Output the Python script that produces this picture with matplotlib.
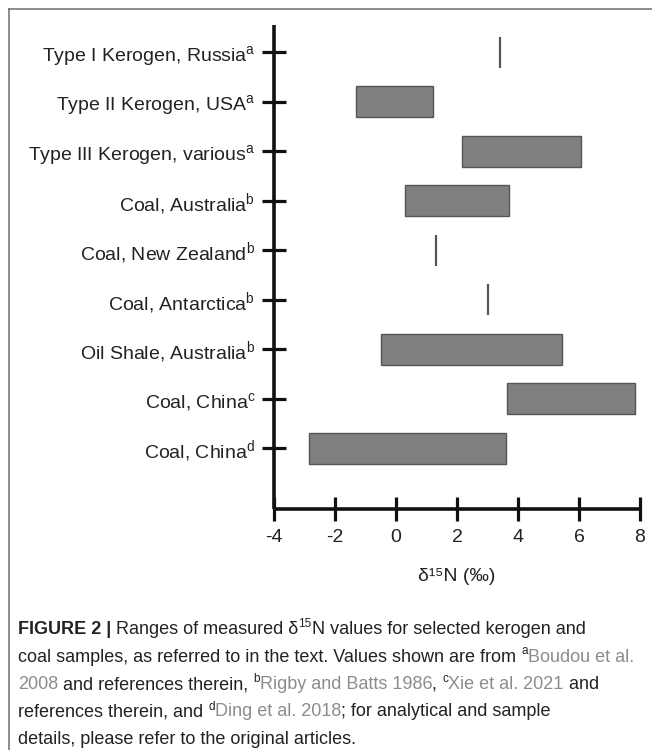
import matplotlib
matplotlib.use("Agg")
import matplotlib.pyplot as plt
from matplotlib.lines import Line2D

# ---------------- data ----------------
categories = [
    "Type I Kerogen, Russia", "Type II Kerogen, USA", "Type III Kerogen, various",
    "Coal, Australia", "Coal, New Zealand", "Coal, Antarctica",
    "Oil Shale, Australia", "Coal, China", "Coal, China",
]
refs = ["a", "a", "a", "b", "b", "b", "b", "c", "d"]
low_vals = [3.4, -1.3, 2.15, 0.3, 1.3, 3.0, -0.5, 3.65, -2.85]
high_vals = [3.4, 1.2, 6.05, 3.7, 1.3, 3.0, 5.45, 7.85, 3.6]
xticks = [-4, -2, 0, 2, 4, 6, 8]
xlabel = "δ¹⁵N (‰)"

# ---------------- fonts ----------------
FONT = "Liberation Sans"
plt.rcParams["font.family"] = [FONT, "DejaVu Sans"]
plt.rcParams["mathtext.fontset"] = "custom"
plt.rcParams["mathtext.rm"] = FONT
plt.rcParams["mathtext.default"] = "regular"

W, H = 652, 750
fig = plt.figure(figsize=(W / 100, H / 100), dpi=100)
fig.patch.set_facecolor("white")

ax_left, ax_right, ax_top, ax_bot = 274, 640, 25, 509
ax = fig.add_axes([ax_left / W, 1 - ax_bot / H, (ax_right - ax_left) / W, (ax_bot - ax_top) / H])

n = len(categories)
ypos = list(range(n))
bar_h = 0.62
for y, lo, hi in zip(ypos, low_vals, high_vals):
    if hi > lo:
        ax.barh(y, hi - lo, left=lo, height=bar_h, color="#808080",
                edgecolor="#555555", linewidth=1.0, zorder=2)
    else:
        ax.vlines(lo, y - bar_h / 2, y + bar_h / 2, color="#555555",
                  linewidth=1.6, zorder=2)

ax.set_xlim(-4, 8)
ax.set_ylim(8 + (509 - 448.3) / 49.5, -(52.3 - 25) / 49.5)
ax.set_xticks(xticks)
ax.set_xticklabels([str(t) for t in xticks])
ax.set_yticks(ypos)
ax.set_yticklabels([f"{c}$^{{{r}}}$" for c, r in zip(categories, refs)])

for s in ["top", "right"]:
    ax.spines[s].set_visible(False)
for s in ["left", "bottom"]:
    ax.spines[s].set_linewidth(2.6)
    ax.spines[s].set_color("#111111")
    ax.spines[s].set_capstyle("butt")

ax.tick_params(axis="both", direction="inout", length=17, width=2.3,
               color="#111111", pad=5)
ax.tick_params(axis="y", labelsize=14, labelcolor="#222222")
ax.tick_params(axis="x", labelsize=14, labelcolor="#222222", pad=6)
ax.set_xlabel(xlabel, fontsize=14, color="#222222", labelpad=16)
ax.set_facecolor("white")

# ---------------- border ----------------
bc = "#6e6e6e"
fig.add_artist(Line2D([9 / W, 1.0], [1 - 8.5 / H, 1 - 8.5 / H], transform=fig.transFigure,
                      color=bc, linewidth=1.1))
fig.add_artist(Line2D([9 / W, 9 / W], [0, 1 - 8.5 / H], transform=fig.transFigure,
                      color=bc, linewidth=1.1))

# ---------------- caption ----------------
TXT = "#222222"
LNK = "#8c8c8c"
cap_size = 13
sup_size = 8.5
caption_lines = [
    [("FIGURE 2 |", TXT, "bold", False), (" Ranges of measured δ", TXT, "normal", False),
     ("15", TXT, "normal", True), ("N values for selected kerogen and", TXT, "normal", False)],
    [("coal samples, as referred to in the text. Values shown are from ", TXT, "normal", False),
     ("a", TXT, "normal", True), ("Boudou et al.", LNK, "normal", False)],
    [("2008", LNK, "normal", False), (" and references therein, ", TXT, "normal", False),
     ("b", TXT, "normal", True), ("Rigby and Batts 1986", LNK, "normal", False),
     (", ", TXT, "normal", False), ("c", TXT, "normal", True),
     ("Xie et al. 2021", LNK, "normal", False), (" and", TXT, "normal", False)],
    [("references therein, and ", TXT, "normal", False), ("d", TXT, "normal", True),
     ("Ding et al. 2018", LNK, "normal", False), ("; for analytical and sample", TXT, "normal", False)],
    [("details, please refer to the original articles.", TXT, "normal", False)],
]
baselines = [634, 661.5, 689, 716.5, 744]

renderer = fig.canvas.get_renderer()


def seg_width(s, size, weight):
    t1 = fig.text(0, 0, "|" + s + "|", fontsize=size, fontweight=weight)
    t2 = fig.text(0, 0, "||", fontsize=size, fontweight=weight)
    w = t1.get_window_extent(renderer).width - t2.get_window_extent(renderer).width
    t1.remove()
    t2.remove()
    return w


x0 = 18
for line, base in zip(caption_lines, baselines):
    x = x0
    for s, col, wt, sup in line:
        size = sup_size if sup else cap_size
        yb = base - (7 if sup else 0)
        fig.text(x / W, 1 - yb / H, s, fontsize=size, fontweight=wt, color=col,
                 ha="left", va="baseline")
        x += seg_width(s, size, wt)

fig.savefig("out.png", dpi=100, facecolor="white")
